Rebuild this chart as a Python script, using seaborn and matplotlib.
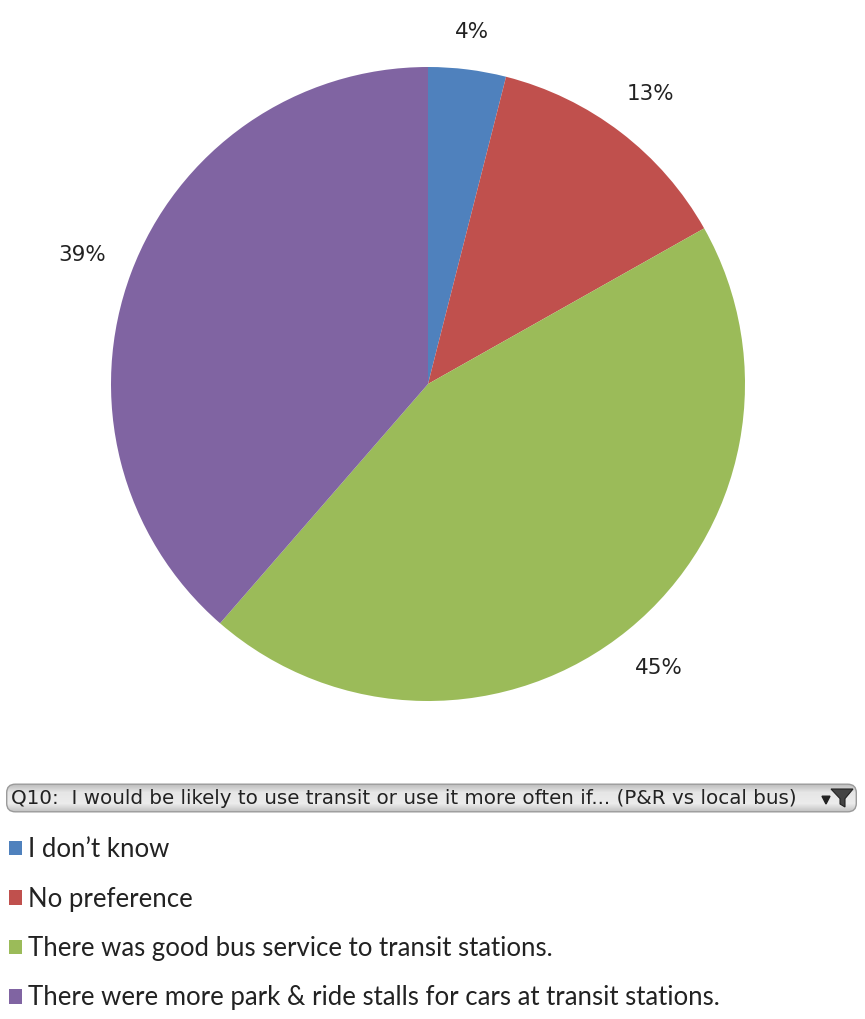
import numpy as np
import matplotlib
matplotlib.use("Agg")
import matplotlib.pyplot as plt
from matplotlib.patches import FancyBboxPatch, Patch, Polygon
import seaborn as sns

# Survey responses (percent of respondents)
categories = [
    "I don\u2019t know",
    "No preference",
    "There was good bus service to transit stations.",
    "There were more park & ride stalls for cars at transit stations.",
]
shares = [4, 13, 45, 39]
colors = ["#4F81BD", "#C0504D", "#9BBB59", "#8064A2"]
question = "Q10:  I would be likely to use transit or use it more often if... (P&R vs local bus)"

sns.set_theme(style="white")
plt.rcParams["font.family"] = ["DejaVu Sans"]
palette = sns.color_palette(colors)

W, H = 865, 1019
fig = plt.figure(figsize=(W / 100, H / 100), dpi=100)
fig.patch.set_facecolor("white")

# Pie axes: centre (428, 384) px, radius 317 px
cx, cy, r = 428, 384, 317
ax = fig.add_axes([(cx - r) / W, (H - cy - r) / H, 2 * r / W, 2 * r / H])
wedges, _ = ax.pie(shares, colors=palette, startangle=90, counterclock=False,
                   wedgeprops=dict(linewidth=0))
ax.set_xlim(-1, 1)
ax.set_ylim(-1, 1)
ax.set_aspect("equal")
ax.axis("off")

# Outside-end data labels: the label box sits a fixed gap beyond the rim
total = sum(shares)
cum = 0.0
labels = []
for v in shares:
    mid = 90 - 360 * (cum + v / 2) / total
    cum += v
    rad = np.deg2rad(mid)
    t = ax.text(np.cos(rad), np.sin(rad), f"{v}%", ha="center", va="center",
                fontsize=15.5, color="#222222")
    labels.append((t, rad))
fig.canvas.draw()
renderer = fig.canvas.get_renderer()
gap = 26.0  # px between rim and label box
for t, rad in labels:
    bb = t.get_window_extent(renderer)
    half = abs(np.cos(rad)) * bb.width / 2 + abs(np.sin(rad)) * bb.height / 2
    dist = (r + gap + half) / r
    t.set_position((dist * np.cos(rad), dist * np.sin(rad)))

# Header bar for the field filter
bx0, by0, bw, bh = 5, 783, 853, 30
bar = fig.add_axes([bx0 / W, (H - by0 - bh) / H, bw / W, bh / H])
bar.axis("off")
grad = np.concatenate([np.linspace(0.72, 0.90, 10), np.linspace(0.90, 0.92, 10),
                       np.linspace(0.92, 0.74, 10)])
img = np.tile(grad[:, None], (1, 50))
im = bar.imshow(img, cmap="gray", vmin=0, vmax=1, aspect="auto",
                extent=[0, 1, 0, 1], origin="upper")
clip = FancyBboxPatch((0.002, 0.04), 0.996, 0.92,
                      boxstyle="round,pad=0,rounding_size=0.01",
                      transform=bar.transAxes, facecolor="none",
                      edgecolor="#9a9a9a", linewidth=1.0,
                      mutation_aspect=bw / bh)
bar.add_patch(clip)
im.set_clip_path(clip)
bar.set_xlim(0, 1)
bar.set_ylim(0, 1)
bar.text(6 / bw, 0.48, question, ha="left", va="center", fontsize=14.3,
         family="DejaVu Sans", color="#222222")
# dropdown arrow and funnel icon
bar.add_patch(Polygon([[817 / bw, 0.56], [825 / bw, 0.56], [821 / bw, 0.30]],
                      closed=True, color="#222222", transform=bar.transAxes))
bar.add_patch(Polygon([[826 / bw, 0.80], [848 / bw, 0.80], [840 / bw, 0.48],
                       [840 / bw, 0.20], [835 / bw, 0.30], [835 / bw, 0.48]],
                      closed=True, facecolor="#444444", edgecolor="#222222",
                      linewidth=0.8, transform=bar.transAxes))

# Legend entries below the header
handles = [Patch(facecolor=c, edgecolor="none") for c in palette]
fig.legend(handles, categories, loc="upper left",
           bbox_to_anchor=(4 / W, 1 - 832 / H), frameon=False,
           prop=dict(family="Lato", size=18.5), handlelength=0.5,
           handleheight=0.5, handletextpad=0.25, labelspacing=0.95,
           borderaxespad=0, borderpad=0.2, labelcolor="#222222")

fig.savefig("out.png", dpi=100, facecolor="white")
